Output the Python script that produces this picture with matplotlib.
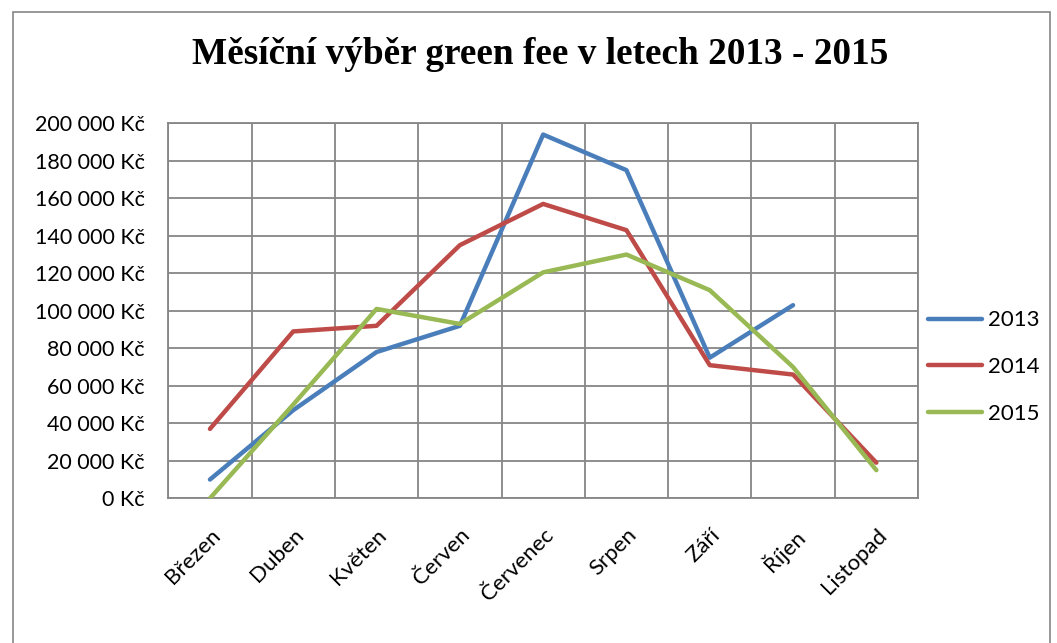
import matplotlib
matplotlib.use("Agg")
import matplotlib.pyplot as plt
from matplotlib.patches import Rectangle
from matplotlib.ticker import FuncFormatter, MultipleLocator

months = ["Březen", "Duben", "Květen", "Červen", "Červenec", "Srpen", "Září", "Říjen", "Listopad"]
v2013 = [10000, 47000, 78000, 92000, 194000, 175000, 75000, 103000, None]
v2014 = [37000, 89000, 92000, 135000, 157000, 143000, 71000, 66000, 19000]
v2015 = [0, 50000, 101000, 93000, 120500, 130000, 111000, 70000, 15000]
series = [("2013", v2013, "#4A7EBB"), ("2014", v2014, "#BE4B48"), ("2015", v2015, "#98B954")]

W, H = 1057, 643
fig = plt.figure(figsize=(W / 100, H / 100), dpi=100)
fig.patches.append(Rectangle((13 / W, -0.1), (1050 - 13) / W, 1.1 - 12 / H,
                             transform=fig.transFigure, fill=False,
                             edgecolor="#868686", linewidth=1.2))

left, right, top, bottom = 168.3, 918.0, 123.3, 498.3
ax = fig.add_axes([left / W, 1 - bottom / H, (right - left) / W, (bottom - top) / H])

x = list(range(len(months)))
for name, vals, col in series:
    xs = [i for i, v in zip(x, vals) if v is not None]
    ys = [v for v in vals if v is not None]
    ax.plot(xs, ys, color=col, linewidth=3.2, solid_capstyle="round",
            solid_joinstyle="round", label=name, zorder=3)

ax.set_xlim(-0.5, len(months) - 0.5)
ax.set_ylim(0, 200000)
ax.yaxis.set_major_locator(MultipleLocator(20000))
ax.yaxis.set_major_formatter(FuncFormatter(lambda v, p: f"{int(v):,}".replace(",", " ") + " Kč"))
ax.set_xticks(x)
ax.set_xticks([i - 0.5 for i in range(len(months) + 1)], minor=True)
ax.set_xticklabels(months, rotation=45, ha="right", va="top", rotation_mode="anchor")
ax.grid(True, which="major", axis="y", color="#868686", linewidth=1.3)
ax.grid(True, which="minor", axis="x", color="#868686", linewidth=1.3)
ax.set_axisbelow(True)
for s in ax.spines.values():
    s.set_color("#868686")
    s.set_linewidth(1.3)
ax.tick_params(axis="both", which="both", length=0)
ax.tick_params(axis="y", pad=17, labelsize=15.5)
ax.tick_params(axis="x", pad=19, labelsize=16)
for lab in ax.get_xticklabels() + ax.get_yticklabels():
    lab.set_fontfamily("Lato")

fig.text(540 / W, 1 - 55 / H, "Měsíční výběr green fee v letech 2013 - 2015",
         ha="center", va="center", fontsize=26.8, fontweight="bold",
         fontfamily="Liberation Serif")

leg = ax.legend(loc="center left", bbox_to_anchor=(928 / W, 1 - 367 / H),
                bbox_transform=fig.transFigure, frameon=False,
                prop={"family": "Lato", "size": 16}, handlelength=2.45,
                handletextpad=0.25, labelspacing=1.2, borderaxespad=0,
                borderpad=0)

fig.savefig("out.png", dpi=100)
